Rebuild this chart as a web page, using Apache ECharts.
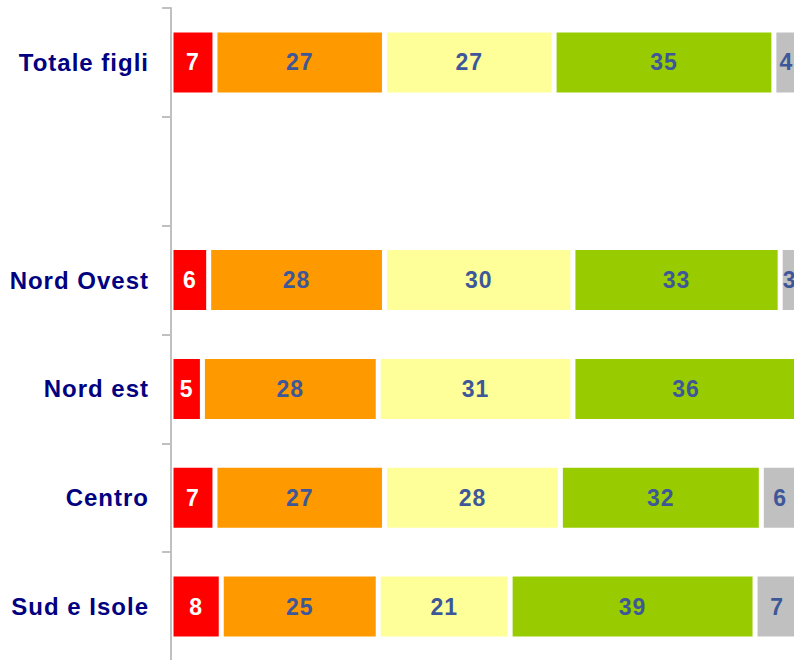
<!DOCTYPE html>
<html>
<head>
<meta charset="utf-8">
<script src="https://cdn.jsdelivr.net/npm/echarts@6/dist/echarts.min.js"></script>
<style>
  html, body { margin: 0; padding: 0; background: #ffffff; }
  #chart { width: 794px; height: 660px; }
  /* slightly wider tracking for all chart text */
  #chart svg text { letter-spacing: 1px; }
</style>
</head>
<body>
<div id="chart"></div>
<script>
// Row labels (top to bottom); the empty row separates the total from the areas
var categories = ['Totale figli', '', 'Nord Ovest', 'Nord est', 'Centro', 'Sud e Isole'];

// Percentage shares per row, one array per response class
var seriesRed    = [7, null, 6, 5, 7, 8];
var seriesOrange = [27, null, 28, 28, 27, 25];
var seriesYellow = [27, null, 30, 31, 28, 21];
var seriesGreen  = [35, null, 33, 36, 32, 39];
var seriesGrey   = [4, null, 3, 0, 6, 7];

var FONT = '"Liberation Sans", Arial, sans-serif';
var VALUE_COLOR = '#3d5799';

function makeSeries(name, data, color, labelColor) {
  return {
    name: name,
    type: 'bar',
    stack: 'total',
    data: data,
    barWidth: 65,
    itemStyle: { color: color, borderColor: '#ffffff', borderWidth: 2.5 },
    label: {
      show: true,
      position: 'inside',
      color: labelColor,
      fontFamily: FONT,
      fontWeight: 'bold',
      fontSize: 23,
      formatter: function (p) { return p.value ? String(p.value) : ''; }
    },
    emphasis: { disabled: true }
  };
}

var chart = echarts.init(document.getElementById('chart'), null, { renderer: 'svg' });

chart.setOption({
  animation: false,
  backgroundColor: '#ffffff',
  grid: { left: 171, right: -5, top: 8, bottom: -1, containLabel: false, outerBoundsMode: 'none' },
  xAxis: {
    type: 'value',
    min: 0,
    max: 100,
    show: false
  },
  yAxis: {
    type: 'category',
    inverse: true,
    data: categories,
    z: 10,
    axisLine: { show: true, lineStyle: { color: '#c0c0c0', width: 2 } },
    axisTick: { show: true, length: 9, lineStyle: { color: '#c0c0c0', width: 2 } },
    axisLabel: {
      margin: 22,
      color: '#000080',
      fontFamily: FONT,
      fontWeight: 'bold',
      fontSize: 24
    },
    splitLine: { show: false }
  },
  series: [
    makeSeries('1', seriesRed, '#ff0000', '#ffffff'),
    makeSeries('2', seriesOrange, '#ff9900', VALUE_COLOR),
    makeSeries('3', seriesYellow, '#ffff99', VALUE_COLOR),
    makeSeries('4', seriesGreen, '#99cc00', VALUE_COLOR),
    makeSeries('5', seriesGrey, '#c0c0c0', VALUE_COLOR)
  ]
});
</script>
</body>
</html>
